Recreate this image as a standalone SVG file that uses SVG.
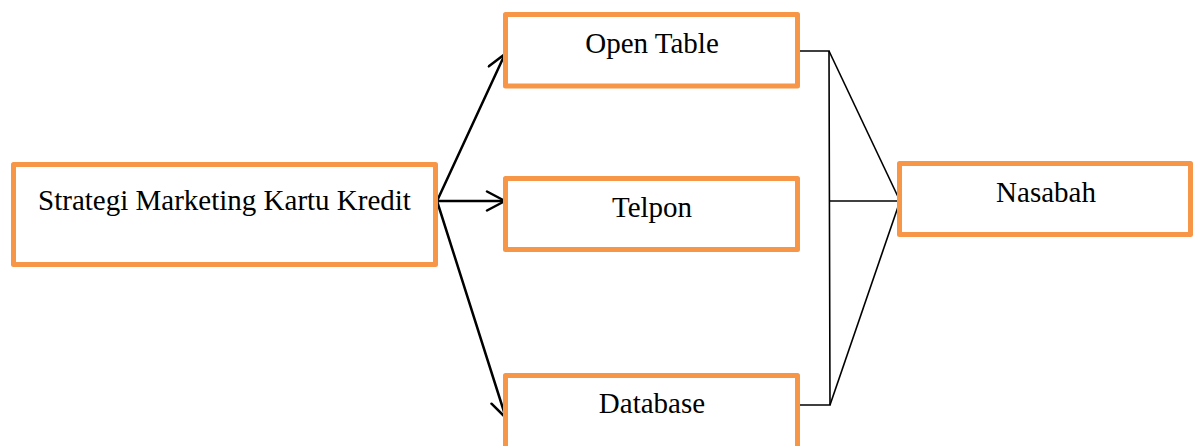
<svg xmlns="http://www.w3.org/2000/svg" width="1194" height="446" viewBox="0 0 1194 446">
<style>
.box{fill:#fff;stroke:#F79646;stroke-width:5;stroke-linejoin:round}
.lbl{font-family:"Liberation Serif","Times New Roman",serif;font-size:29px;fill:#000;text-anchor:middle}
.arr{stroke:#000;stroke-width:2.5;fill:none;stroke-linecap:round}
.thin{stroke:#000;stroke-width:1.6;fill:none}
</style>
<defs>
<marker id="open" viewBox="0 0 22 22" refX="20" refY="11" markerWidth="22" markerHeight="22" markerUnits="userSpaceOnUse" orient="auto">
<path d="M2,1.5 L20,11 L2,20.5" fill="none" stroke="#000" stroke-width="2.5" stroke-linecap="round" stroke-linejoin="round"/>
</marker>
</defs>
<rect width="1194" height="446" fill="#fff"/>
<g id="connectors">
<line class="arr" x1="437" y1="201" x2="505" y2="54" marker-end="url(#open)"/>
<line class="arr" x1="437" y1="201" x2="505" y2="201" marker-end="url(#open)"/>
<line class="arr" x1="437" y1="201" x2="506" y2="418" marker-end="url(#open)"/>
<polyline class="thin" points="800,51 829,51 830,405 800,405"/>
<line class="thin" x1="830" y1="201" x2="900" y2="201"/>
<line class="thin" x1="829" y1="51" x2="900" y2="201"/>
<line class="thin" x1="830" y1="405" x2="900" y2="201"/>
</g>
<g id="strategi">
<rect class="box" x="13.5" y="164.5" width="422" height="100"/>
<text class="lbl" x="224.5" y="210">Strategi Marketing Kartu Kredit</text>
</g>
<g id="open-table">
<rect class="box" x="505.5" y="14.5" width="292" height="71.5"/>
<text class="lbl" x="652" y="53">Open Table</text>
</g>
<g id="telpon">
<rect class="box" x="505.5" y="178.5" width="292" height="71"/>
<text class="lbl" x="652" y="217">Telpon</text>
</g>
<g id="database">
<rect class="box" x="505.5" y="375.5" width="292" height="76"/>
<text class="lbl" x="652" y="413">Database</text>
</g>
<g id="nasabah">
<rect class="box" x="899.5" y="163.5" width="291" height="71"/>
<text class="lbl" x="1046" y="202">Nasabah</text>
</g>
</svg>
